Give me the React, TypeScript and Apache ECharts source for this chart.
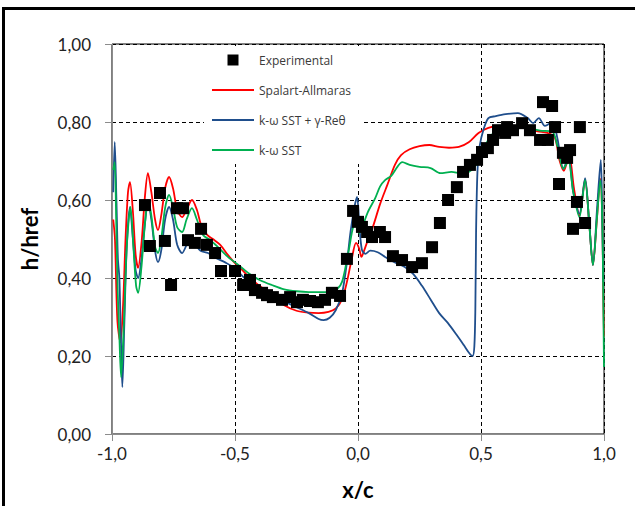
import React, { useEffect, useRef } from "react";
import * as echarts from "echarts";

// Experimental points
const expX = [-0.866, -0.846, -0.805, -0.785, -0.760, -0.736, -0.711, -0.691, -0.663, -0.638, -0.614, -0.581, -0.557, -0.500, -0.467, -0.439, -0.419, -0.390, -0.370, -0.346, -0.309, -0.276, -0.248, -0.224, -0.195, -0.163, -0.134, -0.106, -0.073, -0.045, -0.020, 0.000, 0.016, 0.037, 0.057, 0.089, 0.110, 0.142, 0.179, 0.220, 0.260, 0.301, 0.333, 0.366, 0.402, 0.427, 0.455, 0.484, 0.504, 0.528, 0.549, 0.569, 0.598, 0.606, 0.630, 0.667, 0.699, 0.740, 0.772, 0.752, 0.789, 0.801, 0.833, 0.862, 0.850, 0.817, 0.902, 0.890, 0.874, 0.923];
const expY = [0.587, 0.482, 0.618, 0.495, 0.382, 0.579, 0.579, 0.497, 0.490, 0.526, 0.485, 0.464, 0.418, 0.418, 0.382, 0.395, 0.369, 0.362, 0.356, 0.351, 0.344, 0.351, 0.338, 0.344, 0.341, 0.338, 0.344, 0.362, 0.354, 0.449, 0.572, 0.544, 0.531, 0.518, 0.505, 0.518, 0.505, 0.456, 0.446, 0.428, 0.438, 0.479, 0.541, 0.600, 0.633, 0.672, 0.690, 0.703, 0.723, 0.733, 0.754, 0.779, 0.772, 0.787, 0.779, 0.797, 0.779, 0.754, 0.754, 0.851, 0.841, 0.787, 0.721, 0.728, 0.708, 0.641, 0.787, 0.595, 0.526, 0.541];

// Spalart-Allmaras
const saX = [-0.995, -0.988, -0.978, -0.966, -0.955, -0.945, -0.935, -0.927, -0.915, -0.904, -0.894, -0.880, -0.866, -0.854, -0.840, -0.825, -0.813, -0.800, -0.784, -0.768, -0.752, -0.735, -0.715, -0.697, -0.675, -0.655, -0.635, -0.612, -0.590, -0.560, -0.530, -0.500, -0.470, -0.440, -0.400, -0.350, -0.300, -0.250, -0.200, -0.160, -0.120, -0.090, -0.065, -0.045, -0.025, -0.008, 0.005, 0.014, 0.022, 0.036, 0.060, 0.090, 0.120, 0.150, 0.175, 0.210, 0.250, 0.290, 0.330, 0.370, 0.410, 0.450, 0.490, 0.530, 0.570, 0.610, 0.650, 0.690, 0.730, 0.770, 0.800, 0.820, 0.837, 0.858, 0.878, 0.900, 0.923, 0.940, 0.955, 0.970, 0.985, 0.993, 0.997, 1.000];
const saY = [0.55, 0.50, 0.29, 0.235, 0.33, 0.50, 0.62, 0.646, 0.57, 0.46, 0.426, 0.49, 0.61, 0.669, 0.62, 0.55, 0.523, 0.56, 0.63, 0.659, 0.63, 0.575, 0.556, 0.575, 0.600, 0.575, 0.53, 0.51, 0.50, 0.485, 0.46, 0.438, 0.42, 0.40, 0.38, 0.355, 0.33, 0.316, 0.311, 0.31, 0.313, 0.322, 0.345, 0.39, 0.45, 0.49, 0.475, 0.454, 0.465, 0.49, 0.53, 0.59, 0.64, 0.69, 0.715, 0.73, 0.738, 0.741, 0.736, 0.734, 0.736, 0.748, 0.772, 0.785, 0.79, 0.79, 0.788, 0.782, 0.776, 0.772, 0.76, 0.70, 0.675, 0.715, 0.63, 0.56, 0.652, 0.54, 0.433, 0.54, 0.655, 0.55, 0.36, 0.25];

// k-ω SST + γ-Reθ
const grX = [-0.995, -0.989, -0.982, -0.976, -0.970, -0.964, -0.958, -0.950, -0.940, -0.927, -0.915, -0.904, -0.894, -0.880, -0.866, -0.854, -0.840, -0.825, -0.813, -0.800, -0.784, -0.768, -0.752, -0.735, -0.715, -0.697, -0.683, -0.665, -0.640, -0.610, -0.580, -0.540, -0.500, -0.470, -0.440, -0.400, -0.350, -0.300, -0.250, -0.200, -0.160, -0.140, -0.115, -0.090, -0.065, -0.045, -0.030, -0.015, -0.004, 0.006, 0.016, 0.030, 0.050, 0.080, 0.110, 0.150, 0.190, 0.225, 0.260, 0.295, 0.330, 0.365, 0.400, 0.430, 0.455, 0.466, 0.473, 0.477, 0.480, 0.483, 0.487, 0.495, 0.510, 0.530, 0.560, 0.600, 0.650, 0.690, 0.712, 0.735, 0.760, 0.790, 0.810, 0.835, 0.855, 0.875, 0.900, 0.923, 0.940, 0.955, 0.972, 0.987, 0.993, 0.997];
const grY = [0.62, 0.749, 0.60, 0.45, 0.40, 0.25, 0.12, 0.28, 0.48, 0.582, 0.50, 0.42, 0.40, 0.45, 0.54, 0.59, 0.55, 0.47, 0.441, 0.47, 0.55, 0.582, 0.55, 0.485, 0.464, 0.485, 0.505, 0.49, 0.47, 0.464, 0.452, 0.44, 0.425, 0.405, 0.39, 0.37, 0.352, 0.34, 0.325, 0.31, 0.295, 0.292, 0.298, 0.318, 0.36, 0.44, 0.52, 0.58, 0.608, 0.53, 0.472, 0.462, 0.47, 0.466, 0.454, 0.44, 0.428, 0.41, 0.38, 0.345, 0.31, 0.285, 0.255, 0.228, 0.205, 0.20, 0.225, 0.32, 0.52, 0.62, 0.69, 0.74, 0.78, 0.81, 0.815, 0.82, 0.823, 0.81, 0.797, 0.81, 0.79, 0.80, 0.76, 0.68, 0.71, 0.62, 0.565, 0.656, 0.54, 0.433, 0.58, 0.703, 0.55, 0.39];

// k-ω SST
const swX = [-0.995, -0.989, -0.983, -0.977, -0.970, -0.963, -0.952, -0.940, -0.925, -0.912, -0.902, -0.894, -0.880, -0.866, -0.854, -0.840, -0.825, -0.813, -0.800, -0.784, -0.768, -0.752, -0.735, -0.715, -0.697, -0.675, -0.655, -0.630, -0.600, -0.570, -0.530, -0.500, -0.470, -0.440, -0.400, -0.350, -0.300, -0.250, -0.200, -0.150, -0.110, -0.080, -0.065, -0.050, -0.035, -0.020, -0.008, 0.005, 0.020, 0.040, 0.070, 0.090, 0.110, 0.135, 0.160, 0.180, 0.210, 0.250, 0.295, 0.335, 0.380, 0.420, 0.450, 0.480, 0.510, 0.540, 0.570, 0.620, 0.680, 0.740, 0.790, 0.810, 0.835, 0.855, 0.875, 0.900, 0.923, 0.940, 0.955, 0.972, 0.985, 0.993, 0.997, 1.000];
const swY = [0.677, 0.697, 0.55, 0.369, 0.25, 0.146, 0.28, 0.48, 0.582, 0.47, 0.38, 0.362, 0.43, 0.54, 0.60, 0.56, 0.48, 0.464, 0.50, 0.58, 0.613, 0.58, 0.53, 0.518, 0.55, 0.579, 0.55, 0.51, 0.497, 0.48, 0.455, 0.44, 0.425, 0.41, 0.395, 0.382, 0.371, 0.366, 0.364, 0.364, 0.364, 0.375, 0.39, 0.43, 0.48, 0.53, 0.541, 0.515, 0.535, 0.569, 0.605, 0.635, 0.651, 0.662, 0.685, 0.697, 0.69, 0.685, 0.682, 0.669, 0.672, 0.668, 0.672, 0.69, 0.73, 0.765, 0.78, 0.785, 0.785, 0.778, 0.775, 0.74, 0.68, 0.70, 0.62, 0.556, 0.651, 0.54, 0.433, 0.56, 0.651, 0.55, 0.35, 0.172];

const yTicks = { min: 0, max: 1, interval: 0.2 };
const xTicks = { min: -1, max: 1, interval: 0.5 };

const FONT = "Lato, 'Noto Sans', sans-serif";
const LEGEND_FONT = "'Open Sans', 'Noto Sans', sans-serif";

const zip = (xs: number[], ys: number[]) => xs.map((x, i) => [x, ys[i]]);

export default function App() {
  const ref = useRef<HTMLDivElement>(null);
  useEffect(() => {
    const chart = echarts.init(ref.current!, null, { renderer: "svg" });
    const lineSeries = (name: string, xs: number[], ys: number[], color: string) => ({
      name,
      type: "line",
      data: zip(xs, ys),
      symbol: "none",
      smooth: 0.3,
      z: 2,
      lineStyle: { color, width: 1.8 },
      itemStyle: { color },
    });
    chart.setOption({
      animation: false,
      backgroundColor: "#ffffff",
      graphic: [
        {
          type: "rect",
          silent: true,
          shape: { x: 3.5, y: 8.5, width: 700, height: 600 },
          style: { fill: "none", stroke: "#000", lineWidth: 3 },
        },
      ],
      grid: { left: 112, right: 31, top: 44, bottom: 72, show: true, borderColor: "#000", borderWidth: 1 },
      xAxis: {
        type: "value",
        ...xTicks,
        name: "x/c",
        nameLocation: "middle",
        nameGap: 44,
        nameTextStyle: { fontFamily: FONT, fontSize: 22, fontWeight: "bold", color: "#000" },
        axisLine: { show: true, onZero: false, lineStyle: { color: "#8c8c8c", width: 1 } },
        axisTick: { show: true, length: 7, lineStyle: { color: "#8c8c8c" } },
        axisLabel: {
          margin: 11,
          fontFamily: FONT,
          fontSize: 17,
          color: "#222",
          formatter: (v: number) => v.toFixed(1).replace(".", ","),
        },
        splitLine: { show: true, lineStyle: { color: "#000", type: [4, 3], width: 1 } },
      },
      yAxis: {
        type: "value",
        ...yTicks,
        name: "h/href",
        nameLocation: "middle",
        nameGap: 72,
        nameTextStyle: { fontFamily: FONT, fontSize: 22, fontWeight: "bold", color: "#000" },
        axisLine: { show: true, onZero: false, lineStyle: { color: "#8c8c8c", width: 1 } },
        axisTick: { show: true, length: 7, lineStyle: { color: "#8c8c8c" } },
        axisLabel: {
          margin: 21,
          fontFamily: FONT,
          fontSize: 17,
          color: "#222",
          formatter: (v: number) => v.toFixed(2).replace(".", ","),
        },
        splitLine: { show: true, lineStyle: { color: "#000", type: [4, 3], width: 1 } },
      },
      legend: {
        orient: "vertical",
        left: 204,
        top: 46,
        padding: [8, 10, 8, 8],
        backgroundColor: "#ffffff",
        itemWidth: 42,
        itemHeight: 11,
        itemGap: 18,
        itemTextGap: 5,
        textStyle: { fontFamily: LEGEND_FONT, fontSize: 12, color: "#3a3a3a" },
        data: [
          { name: "Experimental", icon: "path://M0,0H10V10H0Z" },
          { name: "Spalart-Allmaras", icon: "path://M0,0H42V2H0Z" },
          { name: "k-ω SST + γ-Reθ", icon: "path://M0,0H42V2H0Z" },
          { name: "k-ω SST", icon: "path://M0,0H42V2H0Z" },
        ],
      },
      series: [
        lineSeries("Spalart-Allmaras", saX, saY, "#ff0000"),
        lineSeries("k-ω SST + γ-Reθ", grX, grY, "#1f4e8c"),
        lineSeries("k-ω SST", swX, swY, "#00b050"),
        {
          name: "Experimental",
          type: "scatter",
          data: zip(expX, expY),
          symbol: "rect",
          symbolSize: 12,
          z: 5,
          itemStyle: { color: "#000", opacity: 1 },
        },
      ],
    });
    return () => chart.dispose();
  }, []);
  return <div ref={ref} style={{ position: "absolute", left: 0, top: 0, width: 635, height: 506 }} />;
}
